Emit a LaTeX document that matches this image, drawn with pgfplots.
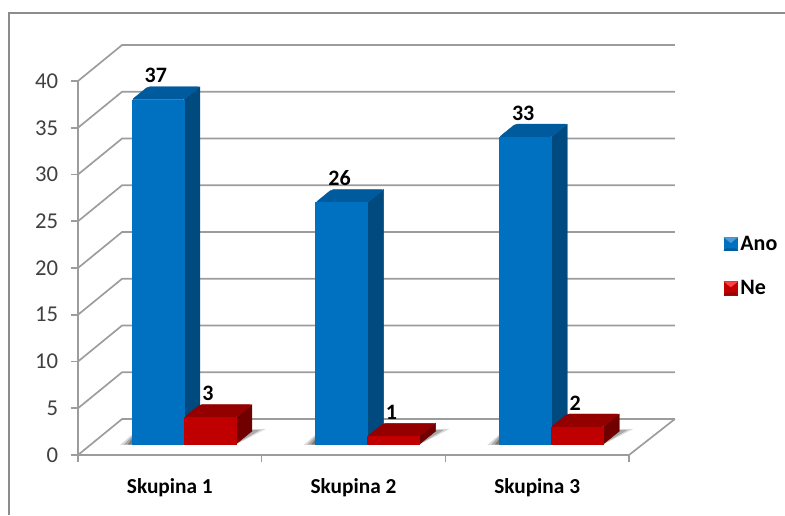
\documentclass[border=0pt]{standalone}
\usepackage{pgfplots}
\pgfplotsset{compat=1.18}
\usepackage{fontspec}
\setmainfont{Carlito}

\definecolor{gridc}{HTML}{9C9C9C}
\definecolor{framec}{HTML}{8C8C8C}
\definecolor{bluef}{HTML}{0070C0}
\definecolor{bluet}{HTML}{005A9E}
\definecolor{blues}{HTML}{004A80}
\definecolor{redf}{HTML}{C00000}
\definecolor{redt}{HTML}{940000}
\definecolor{reds}{HTML}{700000}

% back wall lines, one per y level
\newcommand{\wall}[1]{%
  \pgfmathsetmacro\yb{#1+3.85}%
  \addplot[gridc,line width=1.25pt,forget plot] coordinates {(0,#1) (0.24,\yb) (3.25,\yb)};
}
% soft shadow of one group on the floor
\newcommand{\shadow}[1]{%
  \pgfmathsetmacro\sa{#1-0.065}\pgfmathsetmacro\sb{#1+0.01}%
  \pgfmathsetmacro\sc{#1+0.73}\pgfmathsetmacro\sd{#1+0.56}%
  \pgfmathsetmacro\se{#1-0.045}\pgfmathsetmacro\sf{#1+0.70}\pgfmathsetmacro\sg{#1+0.56}%
  \pgfmathsetmacro\sh{#1-0.025}\pgfmathsetmacro\si{#1+0.66}%
  \addplot[fill=black,fill opacity=0.15,draw=none,forget plot] coordinates {(\sa,1.07) (\sb,2.35) (\sc,2.8) (\sd,1.07)} -- cycle;
  \addplot[fill=black,fill opacity=0.22,draw=none,forget plot] coordinates {(\se,1.1) (\sb,2.2) (\sf,2.7) (\sg,1.1)} -- cycle;
  \addplot[fill=black,fill opacity=0.28,draw=none,forget plot] coordinates {(\sh,1.1) (\sb,2.0) (\si,2.6) (\sg,1.1)} -- cycle;
}
% one 3d bar: left edge, value, three face colours
\newcommand{\solidbar}[5]{%
  \pgfmathsetmacro\xr{#1+0.283}\pgfmathsetmacro\xb{#1+0.087}\pgfmathsetmacro\xc{\xr+0.087}%
  \pgfmathsetmacro\yt{1.0+#2}\pgfmathsetmacro\ytb{\yt+1.39}%
  \addplot[fill=#4,draw=#4,line width=0.3pt,forget plot] coordinates {(\xr,1.176) (\xc,2.566) (\xc,\ytb) (\xr,\yt)} -- cycle;
  \addplot[fill=#5,draw=#5,line width=0.3pt,forget plot,rounded corners=1.5pt] coordinates {(#1,\yt) (\xb,\ytb) (\xc,\ytb) (\xr,\yt)} -- cycle;
  \addplot[fill=#3,draw=#3,line width=0.3pt,forget plot] coordinates {(#1,1.176) (\xr,1.176) (\xr,\yt) (#1,\yt)} -- cycle;
}
% value label over a bar
\newcommand{\barlabel}[2]{%
  \pgfmathsetmacro\lx{#1+0.13}\pgfmathsetmacro\ly{1.176+#2+2.4}%
  \addplot[draw=none,forget plot,nodes near coords={#2},
    every node near coord/.style={font=\fontsize{16.5}{17}\selectfont\bfseries,text=black,anchor=center,inner sep=0pt}]
    coordinates {(\lx,\ly)};
}

\begin{document}
\begin{tikzpicture}[x=0.75pt,y=0.75pt]
\path[use as bounding box] (-78,-60) rectangle (707,455);
\draw[framec,line width=1.2pt] (-69,-60) -- (-69,442) -- (707,442);
\begin{axis}[
  scale only axis,
  width=413.25pt,height=280.5pt,
  xmin=0,xmax=3,ymin=0,ymax=40,
  clip=false,
  axis lines=left,
  axis line style={gridc,line width=1.4pt,-},
  tick style={gridc,line width=1.2pt},
  tick align=outside,
  major tick length=5.25pt,
  xtick={0,1,2,3},
  x tick label as interval,
  xticklabels={Skupina 1,Skupina 2,Skupina 3},
  x tick label style={font=\fontsize{16}{17}\selectfont\bfseries,text=black,yshift=-8.5pt},
  ytick={0,5,...,40},
  y tick label style={font=\fontsize{17}{18}\selectfont,text=black!75,xshift=-6.2pt},
  /pgf/number format/assume math mode=true,
  legend style={at={(axis cs:3.515,20.2)},anchor=west,draw=none,fill=none,
    font=\fontsize{16.5}{17}\selectfont\bfseries,row sep=17pt,inner sep=0pt},
  legend cell align=left,
]
\pgfplotsinvokeforeach{0,5,...,40}{\wall{#1}}
\addplot[gridc,line width=1.25pt,forget plot] coordinates {(3,0) (3.25,3.85)};

\shadow{0.294}
\shadow{1.294}
\shadow{2.294}

\solidbar{0.294}{37}{bluef}{blues}{bluet}
\solidbar{0.577}{3}{redf}{reds}{redt}
\solidbar{1.294}{26}{bluef}{blues}{bluet}
\solidbar{1.577}{1}{redf}{reds}{redt}
\solidbar{2.294}{33}{bluef}{blues}{bluet}
\solidbar{2.577}{2}{redf}{reds}{redt}

\barlabel{0.294}{37}
\barlabel{0.577}{3}
\barlabel{1.294}{26}
\barlabel{1.577}{1}
\barlabel{2.294}{33}
\barlabel{2.577}{2}

\addlegendimage{legend image code/.code={
  \fill[bluef] (0pt,-5pt) rectangle (10pt,5pt);
  \fill[bluef!70!white] (0pt,5pt) -- (10pt,5pt) -- (5pt,1pt) -- cycle;
  \fill[bluet] (0pt,-5pt) -- (10pt,-5pt) -- (8pt,-3.5pt) -- (2pt,-3.5pt) -- cycle;}}
\addlegendentry{Ano}
\addlegendimage{legend image code/.code={
  \fill[redf] (0pt,-5pt) rectangle (10pt,5pt);
  \fill[red!75!white] (0pt,5pt) -- (10pt,5pt) -- (5pt,1pt) -- cycle;
  \fill[redt] (0pt,-5pt) -- (10pt,-5pt) -- (8pt,-3.5pt) -- (2pt,-3.5pt) -- cycle;}}
\addlegendentry{Ne}
\end{axis}
\end{tikzpicture}
\end{document}
